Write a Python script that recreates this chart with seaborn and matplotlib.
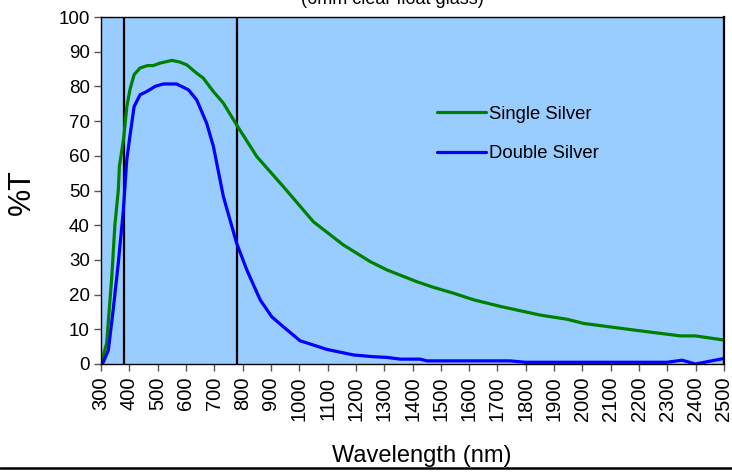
import matplotlib
matplotlib.use("Agg")
import matplotlib.pyplot as plt
import seaborn as sns
import pandas as pd
from matplotlib.lines import Line2D

# ---- data ----
wl_single = [300, 320, 338, 349, 361, 365, 380, 391, 402, 417, 438, 464, 485, 508,
             550, 579, 603, 638, 661, 697, 732, 779, 850, 944, 1050, 1156, 1251,
             1310, 1416, 1474, 1545, 1616, 1710, 1851, 1946, 2004, 2181, 2346,
             2399, 2500]
t_single = [0, 6, 25, 40, 50, 57, 65, 74, 79, 83.4, 85.3, 86, 86, 86.7, 87.5, 87,
            86.2, 83.8, 82.4, 78.5, 75.2, 68.9, 59.8, 51.1, 41, 34.3, 29.5, 27.1,
            23.7, 22.1, 20.4, 18.5, 16.6, 14.1, 12.9, 11.7, 9.8, 8.1, 8.1, 6.9]

wl_double = [300, 308, 326, 343, 361, 379, 391, 402, 417, 438, 461, 491, 520, 567,
             609, 638, 673, 697, 732, 779, 815, 862, 903, 950, 1003, 1098, 1192,
             1262, 1310, 1357, 1427, 1451, 1745, 1798, 2299, 2352, 2399, 2500]
t_double = [0, 0.5, 4, 15.6, 29, 44.4, 58.8, 65.6, 74.2, 77.6, 78.5, 80, 80.7, 80.7,
            79, 76.1, 69.4, 62.7, 48.3, 34.8, 27.1, 18.5, 13.6, 10.3, 6.7, 4.2, 2.6,
            2.1, 1.9, 1.4, 1.4, 0.9, 0.9, 0.5, 0.5, 1.1, 0, 1.6]

series_names = ["Single Silver", "Double Silver"]
series_colors = ["#008000", "#0000FF"]
marker_lines = [380, 780]
x_ticks = list(range(300, 2501, 100))
y_ticks = list(range(0, 101, 10))
title_text = "(6mm clear float glass)"
x_label = "Wavelength (nm)"
y_label = "%T"

df = pd.concat([
    pd.DataFrame({"wl": wl_single, "T": t_single, "series": series_names[0]}),
    pd.DataFrame({"wl": wl_double, "T": t_double, "series": series_names[1]}),
], ignore_index=True)

sns.set_theme(style="white")
plt.rcParams["font.family"] = ["Liberation Sans", "DejaVu Sans"]
plt.rcParams["text.color"] = "black"
plt.rcParams["xtick.labelcolor"] = "black"
plt.rcParams["ytick.labelcolor"] = "black"

W, H = 732, 474
fig = plt.figure(figsize=(W / 100, H / 100), dpi=100)
L, R, T, B = 101, 724, 17, 364
ax = fig.add_axes([L / W, 1 - B / H, (R - L) / W, (B - T) / H])
ax.set_facecolor("#99CCFF")

sns.lineplot(data=df, x="wl", y="T", hue="series", hue_order=series_names,
             palette=series_colors, estimator=None, linewidth=2.3, ax=ax,
             legend=False, sort=True)

for v in marker_lines:
    ax.axvline(v, color="black", linewidth=1.6, zorder=1)

ax.set_xlim(300, 2500)
ax.set_ylim(0, 100)
ax.set_xticks(x_ticks)
ax.set_xticklabels([str(t) for t in x_ticks], rotation=90, fontsize=14.5)
ax.set_yticks(y_ticks)
ax.set_yticklabels([str(t) for t in y_ticks], fontsize=13.5)
ax.tick_params(axis="both", which="major", direction="out", length=5, width=1,
               color="#555555", labelcolor="black", pad=3, bottom=True, left=True)
ax.tick_params(axis="x", pad=4)
ax.set_xlabel("")
ax.set_ylabel("")
for s in ax.spines.values():
    s.set_color("black")
    s.set_linewidth(1.0)
ax.spines["right"].set_linewidth(1.6)

handles = [Line2D([], [], color=c, linewidth=2.3) for c in series_colors]
leg = ax.legend(handles, series_names, loc="upper left",
                bbox_to_anchor=(0.527, 0.765), frameon=False, fontsize=13.3,
                handlelength=2.65, handletextpad=0.2, labelspacing=1.2,
                borderaxespad=0)
for t in leg.get_texts():
    t.set_color("black")

fig.text(392 / W, 1 - 4 / H, title_text, ha="center", va="baseline", fontsize=13)
fig.text(422 / W, 1 - 456 / H, x_label, ha="center", va="center", fontsize=17)
fig.text(22 / W, 1 - 192 / H, y_label, ha="center", va="center", rotation=90,
         fontsize=22)
fig.add_artist(Line2D([0, 1], [1 - 468 / H, 1 - 468 / H], color="black",
                      linewidth=1.8, transform=fig.transFigure))

fig.savefig("out.png", dpi=100)
